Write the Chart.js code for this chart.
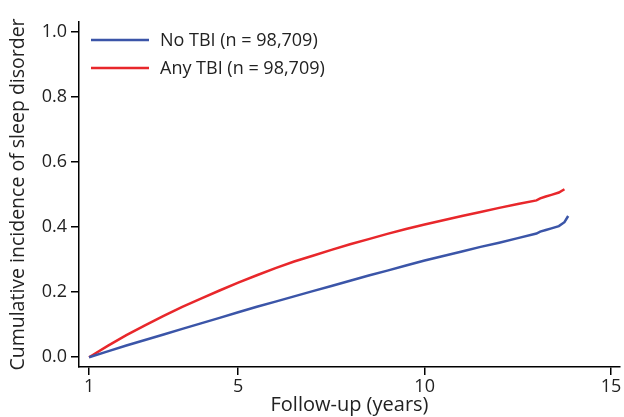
<!DOCTYPE html>
<html>
<head>
<meta charset="utf-8">
<script src="https://cdn.jsdelivr.net/npm/chart.js@4.4.0/dist/chart.umd.min.js"></script>
<style>
  body { margin: 0; background: #fff; }
  #wrap { width: 624px; height: 417px; }
</style>
</head>
<body>
<div id="wrap"><canvas id="cuminc_chart" width="624" height="417"></canvas></div>
<script>
// Data
const follow_up_years = [1, 1.5, 2, 2.5, 3, 3.5, 4, 4.5, 5, 5.5, 6, 6.5, 7, 7.5, 8, 8.5, 9, 9.5, 10, 10.5, 11, 11.5, 12, 12.5, 13, 13.1, 13.25, 13.4, 13.6, 13.75, 13.85];
const no_tbi = [0, 0.018, 0.036, 0.053, 0.07, 0.087, 0.104, 0.121, 0.138, 0.155, 0.171, 0.187, 0.203, 0.219, 0.235, 0.251, 0.266, 0.282, 0.297, 0.311, 0.325, 0.339, 0.352, 0.366, 0.38, 0.386, 0.391, 0.396, 0.403, 0.415, 0.434];
const any_tbi = [0, 0.035, 0.068, 0.098, 0.127, 0.155, 0.18, 0.205, 0.229, 0.252, 0.274, 0.294, 0.312, 0.33, 0.347, 0.363, 0.379, 0.394, 0.408, 0.421, 0.434, 0.446, 0.459, 0.471, 0.482, 0.488, 0.494, 0.499, 0.506, 0.516, null];
const x_tick_values = [1, 5, 10, 15];
const y_tick_values = [0, 0.2, 0.4, 0.6, 0.8, 1.0];
const series_labels = ["No TBI (n = 98,709)", "Any TBI (n = 98,709)"];
const series_colors = ["#3b55a8", "#e8272b"];

const font_family = "'Open Sans', 'Noto Sans', sans-serif";

function toPoints(xs, ys) {
  let pts = [];
  xs.forEach((x, i) => {
    if (ys[i] !== null) pts.push({ x: x, y: ys[i] });
  });
  return pts;
}

// simple legend drawn inside the plot, line + text per series
const insideLegend = {
  id: "insideLegend",
  afterDraw(chart) {
    const ctx = chart.ctx;
    ctx.save();
    ctx.font = "18px " + font_family;
    ctx.textBaseline = "middle";
    ctx.fillStyle = "#222";
    chart.data.datasets.forEach((ds, i) => {
      const y = 40 + i * 28;
      ctx.strokeStyle = ds.borderColor;
      ctx.lineWidth = 2.5;
      ctx.beginPath();
      ctx.moveTo(91, y);
      ctx.lineTo(149, y);
      ctx.stroke();
      ctx.fillText(ds.label, 160, y + 1);
    });
    ctx.restore();
  },
};

const axis_common = {
  border: { display: true, color: "#000", width: 1.5 },
  grid: { drawOnChartArea: false, drawTicks: true, tickLength: 8, color: "#000", lineWidth: 1.5 },
};

const config = {
  type: "line",
  data: {
    datasets: [
      { label: series_labels[0], data: toPoints(follow_up_years, no_tbi), borderColor: series_colors[0], borderWidth: 2.5, pointRadius: 0, tension: 0 },
      { label: series_labels[1], data: toPoints(follow_up_years, any_tbi), borderColor: series_colors[1], borderWidth: 2.5, pointRadius: 0, tension: 0 },
    ],
  },
  options: {
    responsive: false,
    animation: false,
    layout: { padding: { top: 22, right: 4, left: 7, bottom: 0 } },
    plugins: { legend: { display: false }, tooltip: { enabled: false } },
    scales: {
      x: {
        type: "linear",
        min: 0.73,
        max: 15.24,
        ...axis_common,
        afterBuildTicks: (scale) => { scale.ticks = x_tick_values.map((v) => ({ value: v })); },
        afterFit: (scale) => { scale.height = 50; },
        ticks: { color: "#222", padding: 1, font: { family: font_family, size: 18 }, maxRotation: 0 },
        title: { display: true, text: "Follow-up (years)", color: "#222", padding: 0, font: { family: font_family, size: 20 } },
      },
      y: {
        type: "linear",
        min: -0.03,
        max: 1.03,
        ...axis_common,
        afterBuildTicks: (scale) => { scale.ticks = y_tick_values.map((v) => ({ value: v })); },
        afterFit: (scale) => { scale.width = 72; },
        ticks: { color: "#222", padding: 4, font: { family: font_family, size: 18 }, callback: (v) => v.toFixed(1) },
        title: { display: true, text: "Cumulative incidence of sleep disorder", color: "#222", padding: 0, font: { family: font_family, size: 19.5 } },
      },
    },
  },
  plugins: [insideLegend],
};

const myChart = new Chart(document.getElementById("cuminc_chart").getContext("2d"), config);
</script>
</body>
</html>
